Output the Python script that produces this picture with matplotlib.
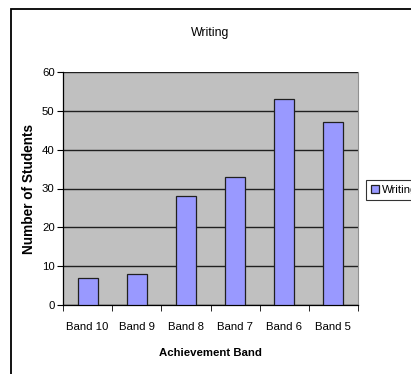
import matplotlib
matplotlib.use("Agg")
import matplotlib.pyplot as plt
from matplotlib.patches import Rectangle
import numpy as np

plt.rcParams['font.family'] = ['Liberation Sans', 'DejaVu Sans']

bands = ['Band 10', 'Band 9', 'Band 8', 'Band 7', 'Band 6', 'Band 5']
students = [7, 8, 28, 33, 53, 47]

W, H = 411, 374
fig = plt.figure(figsize=(W / 100, H / 100), dpi=100)

# chart frame, running off the right and bottom edges
fig.patches.append(Rectangle((10.5 / W, -0.1), 1.2, 1 - 9 / H + 0.1,
                             transform=fig.transFigure, fill=False,
                             edgecolor='black', linewidth=1.3))

ax = fig.add_axes([63 / W, 1 - 305 / H, (358 - 63) / W, (305 - 72) / H])
ax.set_facecolor('#c0c0c0')

x = np.arange(len(bands))
bars = ax.bar(x, students, width=0.41, color='#9999ff', edgecolor='#202020',
              linewidth=0.9, zorder=3, label='Writing')

ax.set_xlim(-0.5, len(bands) - 0.5)
ax.set_ylim(0, 60)
ax.set_yticks(range(0, 61, 10))
ax.yaxis.grid(True, color='#202020', linewidth=1.0, zorder=1)
ax.set_axisbelow(True)

ax.set_xticks(x)
ax.set_xticklabels(bands, fontsize=8.2)
ax.tick_params(axis='x', length=0, pad=12)
ax.set_xticks(np.arange(-0.5, len(bands)), minor=True)
ax.tick_params(axis='x', which='minor', length=4, direction='out')
ax.tick_params(axis='y', labelsize=8.2, length=4, direction='out', pad=2)

ax.spines['top'].set_visible(False)
ax.spines['right'].set_color('#909090')
ax.spines['left'].set_linewidth(0.9)
ax.spines['bottom'].set_linewidth(0.9)

ax.set_title('Writing', fontsize=8.8, pad=26)
ax.set_xlabel('Achievement Band', fontsize=8.2, fontweight='bold', labelpad=12)
ax.set_ylabel('Number of Students', fontsize=9.8, fontweight='bold', labelpad=4)

leg = ax.legend(loc='center left', bbox_to_anchor=(366 / W, 1 - 190 / H),
                bbox_transform=fig.transFigure, fontsize=8.2, frameon=True,
                fancybox=False, edgecolor='black', handlelength=0.7,
                handleheight=0.7, handletextpad=0.3, borderpad=0.4,
                borderaxespad=0)
leg.get_frame().set_linewidth(0.8)

fig.savefig('out.png', dpi=100)
